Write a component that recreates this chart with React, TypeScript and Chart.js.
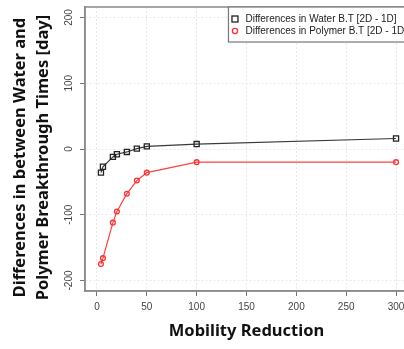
import { useEffect, useRef } from "react";
import { Chart, registerables } from "chart.js";

Chart.register(...registerables);

const mobilityReduction = [4, 6, 16, 20, 30, 40, 50, 100, 300];
const waterDiff = [-36, -27, -12, -8, -4.5, 0.5, 4, 7.5, 16];
const polymerDiff = [-175, -166, -112, -95, -68, -48, -36, -20, -20];
const xTickValues = [0, 50, 100, 150, 200, 250, 300];
const yTickValues = [-200, -100, 0, 100, 200];
const seriesLabels = [
  "Differences in Water B.T [2D - 1D]",
  "Differences in Polymer B.T [2D - 1D]",
];
const xTitle = "Mobility Reduction";
const yTitle = [
  "Differences in between Water and    ",
  "Polymer Breakthrough Times [day]    ",
];

const framePlugin = {
  id: "frameAndLegend",
  afterDraw(chart: any) {
    const { ctx, chartArea: a } = chart;
    ctx.save();
    ctx.strokeStyle = "#8a8a8a";
    ctx.lineWidth = 1.5;
    ctx.strokeRect(a.left, a.top, a.right - a.left, a.bottom - a.top);

    ctx.font = '10px "Liberation Sans", Arial, sans-serif';
    const ds = chart.data.datasets;
    let maxW = 0;
    ds.forEach((d: any) => {
      maxW = Math.max(maxW, ctx.measureText(d.label).width);
    });
    const bw = maxW + 18;
    const bx = a.right - bw;
    const by = a.top;
    const bh = 35;
    ctx.fillStyle = "#ffffff";
    ctx.fillRect(bx, by, bw, bh);
    ctx.strokeStyle = "#777";
    ctx.lineWidth = 1.2;
    ctx.strokeRect(bx, by, bw, bh);
    ds.forEach((d: any, i: number) => {
      const cy = by + 12 + i * 12;
      const cx = bx + 6.5;
      ctx.strokeStyle = d.pointBorderColor;
      ctx.lineWidth = 1.3;
      if (d.pointStyle === "rect") {
        ctx.strokeRect(cx - 3, cy - 3, 6, 6);
      } else {
        ctx.beginPath();
        ctx.arc(cx, cy, 2.6, 0, Math.PI * 2);
        ctx.stroke();
      }
      ctx.fillStyle = "#222";
      ctx.textBaseline = "middle";
      ctx.textAlign = "left";
      ctx.fillText(d.label, bx + 17, cy + 0.5);
    });
    ctx.restore();
  },
};

export default function App() {
  const ref = useRef<HTMLCanvasElement | null>(null);
  useEffect(() => {
    document.body.style.margin = "0";
    const canvas = ref.current!;
    const chart = new Chart(canvas, {
      type: "line",
      data: {
        datasets: [
          {
            label: seriesLabels[0],
            data: mobilityReduction.map((x, i) => ({ x, y: waterDiff[i] })),
            borderColor: "#3a3a3a",
            borderWidth: 1.2,
            pointStyle: "rect",
            pointRadius: 3.6,
            pointBorderWidth: 1.3,
            pointBorderColor: "#222",
            pointBackgroundColor: "rgba(255,255,255,0)",
            fill: false,
          },
          {
            label: seriesLabels[1],
            data: mobilityReduction.map((x, i) => ({ x, y: polymerDiff[i] })),
            borderColor: "#ff4040",
            borderWidth: 1.2,
            pointStyle: "circle",
            pointRadius: 2.4,
            pointBorderWidth: 1.3,
            pointBorderColor: "#ff3030",
            pointBackgroundColor: "rgba(255,255,255,0)",
            fill: false,
          },
        ],
      },
      options: {
        responsive: false,
        animation: false,
        devicePixelRatio: 1,
        layout: { padding: { top: 4, right: 12, left: 0, bottom: 0 } },
        plugins: { legend: { display: false }, tooltip: { enabled: false } },
        scales: {
          x: {
            type: "linear",
            min: -12,
            max: 312,
            afterBuildTicks: (s: any) => {
              s.ticks = xTickValues.map((v) => ({ value: v }));
            },
            afterFit: (s: any) => {
              s.height = 58;
            },
            ticks: {
              autoSkip: false,
              maxRotation: 0,
              padding: 5,
              color: "#444",
              font: { family: '"Liberation Sans", Arial, sans-serif', size: 10 },
            },
            grid: {
              color: "#e8e8e8",
              tickColor: "#777",
              tickLength: 5,
              lineWidth: 1,
            },
            border: { color: "#8a8a8a", width: 1.5, dash: [2, 2] },
            title: {
              display: true,
              text: xTitle,
              color: "#111",
              font: { family: '"Noto Sans", sans-serif', size: 16.5, weight: "bold", lineHeight: 1.2 },
              padding: { top: 0, bottom: 7.5 },
            },
          },
          y: {
            type: "linear",
            min: -216,
            max: 216,
            afterBuildTicks: (s: any) => {
              s.ticks = yTickValues.map((v) => ({ value: v }));
            },
            afterFit: (s: any) => {
              s.width = 85;
            },
            ticks: {
              autoSkip: false,
              minRotation: 90,
              maxRotation: 90,
              crossAlign: "center",
              padding: 1,
              color: "#444",
              font: { family: '"Liberation Sans", Arial, sans-serif', size: 10 },
            },
            grid: {
              color: "#e8e8e8",
              tickColor: "#777",
              tickLength: 5,
              lineWidth: 1,
            },
            border: { color: "#8a8a8a", width: 1.5, dash: [2, 2] },
            title: {
              display: true,
              text: yTitle,
              color: "#111",
              font: { family: '"Noto Sans", sans-serif', size: 16.5, weight: "bold", lineHeight: 1.39 },
              padding: { top: 8.5, bottom: 0 },
            },
          },
        },
      },
      plugins: [framePlugin],
    });
    return () => chart.destroy();
  }, []);

  return (
    <div
      style={{
        position: "absolute",
        left: 0,
        top: 0,
        width: 404,
        height: 349,
        overflow: "hidden",
        background: "#fff",
      }}
    >
      <canvas ref={ref} width={420} height={349} style={{ width: 420, height: 349, display: "block" }} />
    </div>
  );
}
